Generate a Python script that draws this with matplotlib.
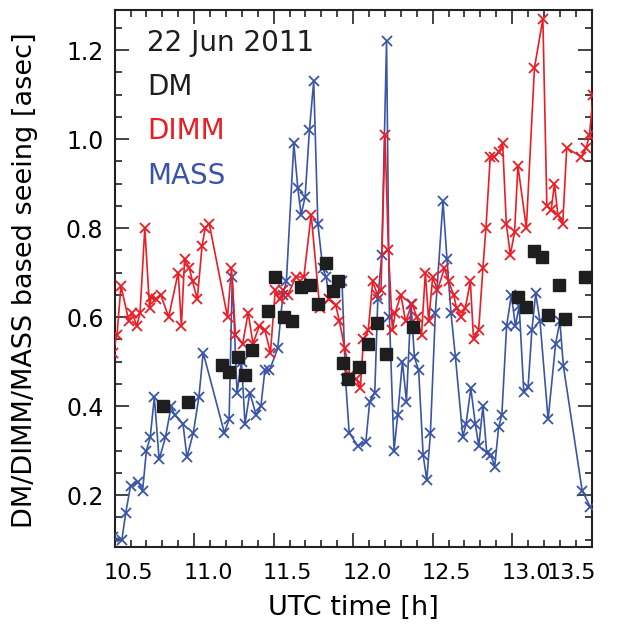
import matplotlib
matplotlib.use("Agg")
import matplotlib.pyplot as plt
from matplotlib.ticker import MultipleLocator
import matplotlib.transforms as mtransforms

# ---------------- data ----------------
dimm_t = [10.49, 10.515, 10.54, 10.59, 10.61, 10.64, 10.66, 10.69, 10.72, 10.73,
          10.76, 10.79, 10.84, 10.90, 10.92, 10.94, 10.97, 10.99, 11.02, 11.05,
          11.07, 11.095, 11.21, 11.235, 11.26, 11.305, 11.34, 11.37, 11.41, 11.445,
          11.48, 11.51, 11.537, 11.56, 11.59, 11.64, 11.69, 11.736, 11.79, 11.847,
          11.89, 11.914, 11.947, 11.98, 12.02, 12.045, 12.065, 12.095, 12.123, 12.153,
          12.175, 12.20, 12.222, 12.247, 12.265, 12.30, 12.33, 12.37, 12.40, 12.43,
          12.454, 12.475, 12.50, 12.53, 12.574, 12.60, 12.632, 12.65, 12.678, 12.705,
          12.737, 12.757, 12.789, 12.816, 12.835, 12.862, 12.883, 12.915, 12.94, 12.963,
          12.988, 13.015, 13.036, 13.089, 13.14, 13.193, 13.218, 13.245, 13.266, 13.287,
          13.318, 13.343, 13.434, 13.466, 13.486, 13.51]
dimm_v = [0.52, 0.56, 0.67, 0.59, 0.61, 0.58, 0.61, 0.80, 0.62, 0.645,
          0.64, 0.65, 0.60, 0.70, 0.58, 0.73, 0.71, 0.68, 0.64, 0.76,
          0.80, 0.81, 0.60, 0.71, 0.56, 0.54, 0.61, 0.54, 0.58, 0.57,
          0.52, 0.66, 0.64, 0.66, 0.65, 0.69, 0.69, 0.83, 0.62, 0.64,
          0.627, 0.59, 0.53, 0.47, 0.46, 0.44, 0.55, 0.57, 0.68, 0.65,
          0.66, 1.01, 0.75, 0.57, 0.61, 0.65, 0.59, 0.63, 0.60, 0.56,
          0.70, 0.59, 0.69, 0.66, 0.71, 0.68, 0.65, 0.62, 0.60, 0.62,
          0.68, 0.55, 0.57, 0.71, 0.80, 0.96, 0.96, 0.97, 0.99, 0.81,
          0.74, 0.79, 0.94, 0.80, 1.16, 1.27, 0.85, 0.84, 0.90, 0.83,
          0.81, 0.98, 0.96, 0.98, 1.01, 1.10]

mass_t = [10.49, 10.546, 10.57, 10.60, 10.647, 10.676, 10.70, 10.724, 10.75, 10.78,
          10.82, 10.856, 10.877, 10.93, 10.955, 10.995, 11.03, 11.057, 11.19, 11.22,
          11.24, 11.27, 11.298, 11.32, 11.35, 11.39, 11.42, 11.445, 11.474, 11.526,
          11.558, 11.58, 11.627, 11.652, 11.673, 11.698, 11.725, 11.752, 11.778, 11.809,
          11.83, 11.851, 11.93, 11.952, 11.975, 12.03, 12.08, 12.104, 12.136, 12.155,
          12.18, 12.21, 12.228, 12.257, 12.28, 12.31, 12.335, 12.364, 12.385, 12.412,
          12.44, 12.463, 12.486, 12.517, 12.565, 12.59, 12.615, 12.643, 12.69, 12.71,
          12.74, 12.768, 12.79, 12.816, 12.84, 12.866, 12.89, 12.915, 12.935, 12.965,
          12.995, 13.02, 13.044, 13.073, 13.10, 13.124, 13.148, 13.175, 13.226, 13.273,
          13.30, 13.322, 13.44, 13.49]
mass_v = [0.105, 0.10, 0.16, 0.22, 0.23, 0.21, 0.30, 0.33, 0.42, 0.28,
          0.33, 0.40, 0.38, 0.36, 0.285, 0.34, 0.42, 0.52, 0.34, 0.37,
          0.69, 0.43, 0.50, 0.36, 0.43, 0.38, 0.40, 0.48, 0.48, 0.53,
          0.65, 0.68, 0.99, 0.89, 0.83, 0.87, 1.02, 1.13, 0.81, 0.71,
          0.69, 0.64, 0.68, 0.46, 0.34, 0.31, 0.32, 0.41, 0.43, 0.64,
          0.74, 1.22, 0.60, 0.30, 0.38, 0.50, 0.41, 0.63, 0.51, 0.48,
          0.29, 0.234, 0.34, 0.61, 0.86, 0.73, 0.61, 0.51, 0.33, 0.36,
          0.44, 0.36, 0.31, 0.40, 0.294, 0.29, 0.264, 0.353, 0.38, 0.58,
          0.65, 0.58, 0.625, 0.432, 0.443, 0.571, 0.653, 0.59, 0.37, 0.54,
          0.59, 0.49, 0.21, 0.174]

dm_t = [10.804, 10.961, 11.173, 11.22, 11.273, 11.32, 11.367, 11.464, 11.51, 11.564,
        11.614, 11.673, 11.73, 11.78, 11.83, 11.872, 11.907, 11.935, 11.965, 12.037,
        12.096, 12.153, 12.205, 12.377, 13.034, 13.086, 13.136, 13.186, 13.227, 13.293,
        13.335, 13.457]
dm_v = [0.40, 0.408, 0.492, 0.476, 0.511, 0.47, 0.526, 0.614, 0.69, 0.60,
        0.592, 0.667, 0.672, 0.629, 0.721, 0.659, 0.682, 0.496, 0.46, 0.487,
        0.539, 0.587, 0.517, 0.577, 0.646, 0.622, 0.749, 0.734, 0.604, 0.672,
        0.595, 0.689]

xticks = [10.5, 11.0, 11.5, 12.0, 12.5, 13.0, 13.5]
xticklabels = ["10.5", "11.0", "11.5", "12.0", "12.5", "13.0", "13.5"]
yticks = [0.2, 0.4, 0.6, 0.8, 1.0, 1.2]
yticklabels = ["0.2", "0.4", "0.6", "0.8", "1.0", "1.2"]

RED = "#EC1C24"
BLUE = "#3A55A8"
BLACK = "#1E1E1E"

plt.rcParams['font.family'] = ['DejaVu Sans']

W, H = 624, 634
fig = plt.figure(figsize=(W / 100, H / 100), dpi=100)
ax = fig.add_axes([114.6 / W, 1 - 547.3 / H, (591.7 - 114.6) / W, (547.3 - 10) / H])

ax.plot(mass_t, mass_v, color=BLUE, lw=1.2, marker='x', ms=7, mew=1.3, zorder=3)
ax.plot(dimm_t, dimm_v, color=RED, lw=1.2, marker='x', ms=7, mew=1.3, zorder=4)
ax.plot(dm_t, dm_v, ls='none', marker='s', ms=8, color=BLACK, mec=BLACK, zorder=5)

ax.set_xlim(10.5, 13.5)
ax.set_ylim(0.0825, 1.29)

ax.set_xticks(xticks)
ax.set_xticklabels(xticklabels, fontsize=16)
ax.set_yticks(yticks)
ax.set_yticklabels(yticklabels, fontsize=17)
ax.xaxis.set_minor_locator(MultipleLocator(0.1))
ax.yaxis.set_minor_locator(MultipleLocator(0.05))
ax.tick_params(which='both', direction='in', top=True, right=True, color='#222222', width=1.2)
ax.tick_params(which='major', length=10)
ax.tick_params(which='minor', length=5)
ax.tick_params(axis='x', pad=11)
ax.tick_params(axis='y', pad=8)

labels = ax.get_xticklabels()
for i, lab in enumerate(labels):
    if i == len(labels) - 1:
        lab.set_ha('right')
        lab.set_transform(lab.get_transform() + mtransforms.ScaledTranslation(4 / 100, 0, fig.dpi_scale_trans))
    else:
        lab.set_transform(lab.get_transform() + mtransforms.ScaledTranslation(14 / 100, 0, fig.dpi_scale_trans))

for s in ax.spines.values():
    s.set_linewidth(1.5)
    s.set_color('#222222')

fig.text(353 / W, 1 - 615 / H, "UTC time [h]", ha='center', va='baseline', fontsize=19.5)
fig.text(25 / W, 1 - 280 / H, "DM/DIMM/MASS based seeing [asec]", ha='center', va='center',
         rotation=90, fontsize=19.5)

tx = 147 / W
fig.text(tx, 1 - 51 / H, "22 Jun 2011", color=BLACK, fontsize=20, va='baseline')
fig.text(tx, 1 - 95 / H, "DM", color=BLACK, fontsize=20, va='baseline')
fig.text(tx, 1 - 139 / H, "DIMM", color=RED, fontsize=20, va='baseline')
fig.text(tx, 1 - 184 / H, "MASS", color=BLUE, fontsize=20, va='baseline')

fig.savefig("out.png", dpi=100)
